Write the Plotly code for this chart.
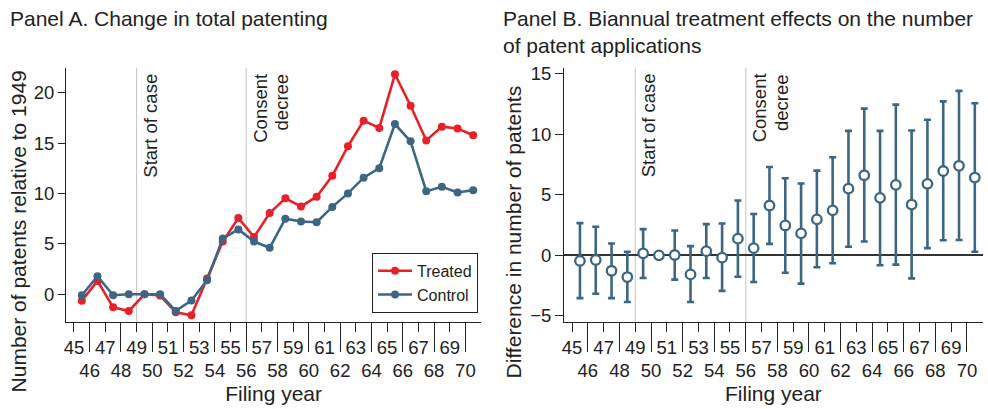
import plotly.graph_objects as go

W, H = 988, 409

# ---- data ----
years = list(range(45, 71))
odd_years = [y for y in years if y % 2 == 1]
even_years = [y for y in years if y % 2 == 0]
event_years = [49, 56]
event_labels = ["Start of case", "Consent<br>decree"]

treated = [-0.65, 1.33, -1.3, -1.66, 0.0, -0.13, -1.79, -2.08, 1.56, 5.24,
           7.58, 5.69, 8.07, 9.53, 8.72, 9.69, 11.77, 14.7, 17.24, 16.52,
           21.85, 18.73, 15.28, 16.65, 16.46, 15.8]
control = [-0.1, 1.79, -0.1, 0.0, 0.0, 0.0, -1.65, -0.62, 1.4, 5.53,
           6.44, 5.24, 4.62, 7.51, 7.22, 7.15, 8.68, 10.02, 11.58, 12.52,
           16.91, 15.19, 10.24, 10.67, 10.11, 10.34]

effect = [-0.46, -0.38, -1.27, -1.79, 0.16, 0.0, 0.03, -1.57, 0.35, -0.19,
          1.38, 0.6, 4.12, 2.47, 1.82, 2.98, 3.72, 5.51, 6.62, 4.75,
          5.83, 4.2, 5.91, 6.97, 7.4, 6.43]
ci_hi = [2.66, 2.36, 0.98, 0.3, 2.17, None, 2.06, 0.76, 2.58, 2.63,
         4.53, 3.42, 7.3, 6.37, 5.94, 7.0, 8.11, 10.28, 12.12, 10.28,
         12.45, 10.31, 11.2, 12.72, 13.59, 12.56]
ci_lo = [-3.53, -3.17, -3.53, -3.85, -1.87, None, -2.0, -3.85, -1.87, -2.93,
         -1.76, -2.2, 0.95, -1.44, -2.33, -0.98, -0.65, 0.71, 1.14, -0.81,
         -0.76, -1.9, 0.6, 1.25, 1.27, 0.3]

# ---- styling ----
RED = "#E8202A"
BLUE = "#3D6682"
TXT = "#222222"
FONT = "Liberation Sans, Arial, Helvetica, sans-serif"

xpos = [y + 0.5 for y in years]  # points sit mid-year
err_plus = [(h - e) if h is not None else 0 for h, e in zip(ci_hi, effect)]
err_minus = [(e - l) if l is not None else 0 for l, e in zip(ci_lo, effect)]

fig = go.Figure()

fig.add_trace(go.Scatter(x=xpos, y=treated, name="Treated", mode="lines+markers",
                         line=dict(color=RED, width=2.6), marker=dict(size=8, color=RED),
                         xaxis="x", yaxis="y"))
fig.add_trace(go.Scatter(x=xpos, y=control, name="Control", mode="lines+markers",
                         line=dict(color=BLUE, width=2.6), marker=dict(size=8, color=BLUE),
                         xaxis="x", yaxis="y"))
fig.add_trace(go.Scatter(x=xpos, y=effect, mode="markers", showlegend=False,
                         marker=dict(size=9.5, color="white", symbol="circle",
                                     line=dict(color=BLUE, width=2.3)),
                         error_y=dict(type="data", symmetric=False, array=err_plus,
                                      arrayminus=err_minus, color=BLUE, thickness=2.6, width=3.5),
                         xaxis="x2", yaxis="y2"))
# dummy traces to host the even-year tick axes
fig.add_trace(go.Scatter(x=even_years, y=[None] * len(even_years), showlegend=False,
                         hoverinfo="skip", xaxis="x3", yaxis="y"))
fig.add_trace(go.Scatter(x=even_years, y=[None] * len(even_years), showlegend=False,
                         hoverinfo="skip", xaxis="x4", yaxis="y2"))

xA = [64.3 / W, 480 / W]
xB = [563.3 / W, 982.7 / W]
yD = [1 - 324.3 / H, 1 - 65 / H]
xr = [44.5, 71]

tickfont = dict(family=FONT, size=18.5, color=TXT)
titlefont = dict(family=FONT, size=21, color=TXT)

def odd_axis(domain, anchor):
    return dict(domain=domain, anchor=anchor, range=xr, tickvals=odd_years,
                ticktext=[str(v) for v in odd_years], ticks="outside", ticklen=9,
                tickwidth=1, tickcolor=TXT, showline=True, linecolor=TXT, linewidth=1.3,
                showgrid=False, zeroline=False, tickfont=tickfont, ticklabelstandoff=0,
                title=dict(text="Filing year", font=titlefont, standoff=28))

def even_axis(domain, anchor, over):
    return dict(domain=domain, anchor=anchor, overlaying=over, range=xr, tickvals=even_years,
                ticktext=[str(v) for v in even_years], ticks="outside", ticklen=29,
                tickwidth=1, tickcolor=TXT, showline=False, showgrid=False, zeroline=False,
                tickfont=tickfont, ticklabelstandoff=3)

fig.update_layout(
    width=W, height=H, margin=dict(l=0, r=0, t=0, b=0),
    paper_bgcolor="white", plot_bgcolor="white",
    font=dict(family=FONT, color=TXT),
    xaxis=odd_axis(xA, "y"),
    xaxis2=odd_axis(xB, "y2"),
    xaxis3=even_axis(xA, "y", "x"),
    xaxis4=even_axis(xB, "y2", "x2"),
    yaxis=dict(domain=yD, anchor="x", range=[-2.75, 22.5], tickvals=[0, 5, 10, 15, 20],
               ticks="outside", ticklen=7, tickcolor=TXT, showline=True, linecolor=TXT,
               linewidth=1.3, showgrid=False, zeroline=False, tickfont=tickfont),
    yaxis2=dict(domain=yD, anchor="x2", range=[-5.5, 15.5], tickvals=[-5, 0, 5, 10, 15],
                ticks="outside", ticklen=8, tickcolor=TXT, showline=True, linecolor=TXT,
                linewidth=1.3, showgrid=False, zeroline=True, zerolinecolor="#333333",
                zerolinewidth=1.6, tickfont=tickfont),
    legend=dict(x=477 / W, y=1 - 315 / H, xanchor="right", yanchor="bottom",
                bordercolor=TXT, borderwidth=1, bgcolor="white",
                font=dict(family=FONT, size=16, color=TXT), itemwidth=34,
                tracegroupgap=2),
    showlegend=True,
)

shapes = []
annotations = []
LINE_STEP = 21.7
for xref in ["x", "x2"]:
    yref = "y domain" if xref == "x" else "y2 domain"
    for ev, lab in zip(event_years, event_labels):
        shapes.append(dict(type="line", xref=xref, yref=yref, x0=ev, x1=ev, y0=0, y1=1,
                           line=dict(color="#C4C4C4", width=1), layer="below"))
        for i, part in enumerate(lab.split("<br>")):
            annotations.append(dict(xref=xref, yref=yref, x=ev, y=0.985, text=part, textangle=-90,
                                    showarrow=False, xanchor="left", yanchor="top",
                                    xshift=1 + i * LINE_STEP,
                                    font=dict(family=FONT, size=18.5, color=TXT)))

# axis titles for y placed as rotated text
annotations.append(dict(xref="paper", yref="paper", x=16 / W, y=1 - 232 / H, xanchor="center",
                        yanchor="middle", textangle=-90, showarrow=False,
                        text="Number of patents relative to 1949", font=titlefont))
annotations.append(dict(xref="paper", yref="paper", x=513 / W, y=1 - 232 / H, xanchor="center",
                        yanchor="middle", textangle=-90, showarrow=False,
                        text="Difference in number of patents", font=titlefont))

annotations.append(dict(xref="paper", yref="paper", x=6 / W, y=1 - 1 / H, xanchor="left",
                        yanchor="top", showarrow=False, align="left",
                        text="Panel A. Change in total patenting",
                        font=dict(family=FONT, size=21, color=TXT)))
annotations.append(dict(xref="paper", yref="paper", x=500 / W, y=1 - 1 / H, xanchor="left",
                        yanchor="top", showarrow=False, align="left",
                        text="Panel B. Biannual treatment effects on the number<br>of patent applications",
                        font=dict(family=FONT, size=21, color=TXT)))

fig.update_layout(shapes=shapes, annotations=annotations)
fig.write_html("out.html")
